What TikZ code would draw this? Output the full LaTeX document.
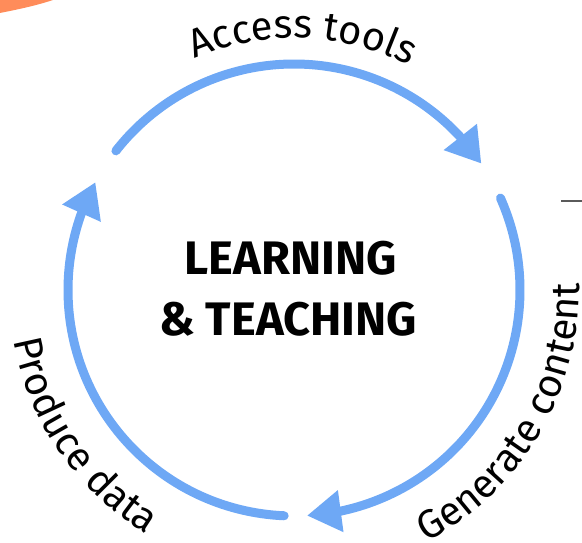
\documentclass[tikz,border=0pt]{standalone}
\usepackage{fontspec}
\setmainfont{Fira Sans}
\usetikzlibrary{arrows.meta,bending,decorations.text}
\definecolor{cyc}{HTML}{6EA8F5}
\definecolor{orng}{RGB}{255,140,90}
\definecolor{dashgray}{RGB}{90,90,90}
\newcommand\lblfont{\fontsize{40}{40}\selectfont}
\begin{document}
\begin{tikzpicture}[x=1pt,y=1pt,
  cycarc/.style={draw=cyc,line width=9pt,line cap=round,-{Triangle[width=40pt,length=34pt]}},
  curvlabel/.style={decorate,decoration={text along path,text align=center,text={|\lblfont|#1}}},
  centertext/.style={font=\bfseries\fontsize{47}{47}\selectfont,anchor=base,inner sep=0pt}]
\useasboundingbox (0,0) rectangle (582,542);
\fill[orng] (0,542) -- (53,542) .. controls (35,536) and (15,532) .. (0,529) -- cycle;
\coordinate (c) at (294,252);
\coordinate (d1) at (561,341);
\coordinate (d2) at (582,341);
\draw[dashgray,line width=1.2pt] (d1) -- (d2);
% arcs
\draw[cycarc] (c) ++(142:226) arc[start angle=142,end angle=34,radius=226];
\draw[cycarc] (c) ++(24:226) arc[start angle=24,end angle=-86.7,radius=226];
\draw[cycarc] (c) ++(-92.5:226) arc[start angle=-92.5,end angle=-208.5,radius=226];
% curved labels
\path[curvlabel={Access tools}] (c) ++(118:252) arc[start angle=118,end angle=58,radius=252];
\path[curvlabel={Generate content}] (c) ++(-68:285) arc[start angle=-68,end angle=7,radius=285];
\path[curvlabel={Produce data}] (c) ++(182:285) arc[start angle=182,end angle=247,radius=285];
% centre
\node[centertext] (t1) at (290.5,267) {LEARNING};
\node[centertext] (t2) at (288,207) {\& TEACHING};
\end{tikzpicture}
\end{document}
